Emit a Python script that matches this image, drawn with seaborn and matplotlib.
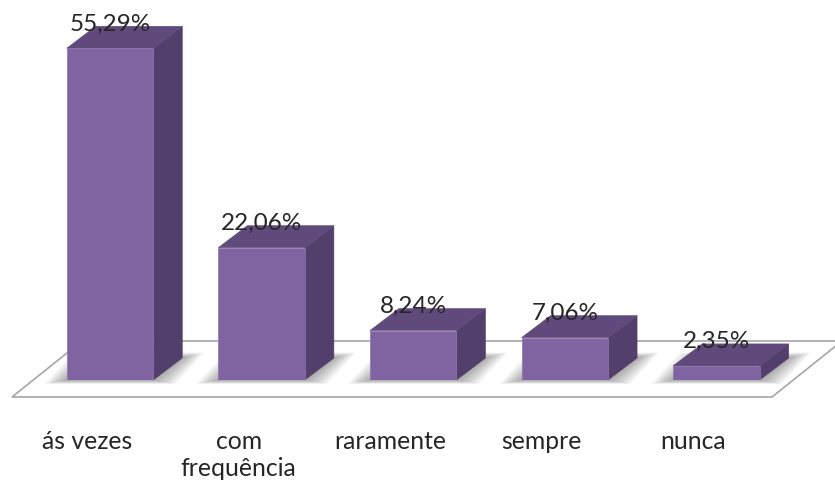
import matplotlib
matplotlib.use('Agg')
import matplotlib.pyplot as plt
from matplotlib.patches import Polygon
from matplotlib.transforms import Affine2D, ScaledTranslation
import seaborn as sns

categories = ['ás vezes', 'com\nfrequência', 'raramente', 'sempre', 'nunca']
values = [55.29, 22.06, 8.24, 7.06, 2.35]
value_labels = ['55,29%', '22,06%', '8,24%', '7,06%', '2,35%']

FRONT = '#8064A2'
SIDE = '#533F6B'
TOP = '#604A7B'
FLOOR_LINE = '#A6A6A6'
TEXT = '#262626'

W, H = 835, 486
BASE_Y = 380       # pixel row of the bars' foot
PX_PER_CAT = 151.6
PX_PER_UNIT = 6.0
DEPTH_X, DEPTH_Y = 29, 22  # 3d depth in pixels

sns.set_style('white')
plt.rcParams['font.family'] = ['Lato', 'DejaVu Sans']

fig = plt.figure(figsize=(W / 100, H / 100), dpi=100)
ax = fig.add_axes([0, (H - BASE_Y) / H, 1, BASE_Y / H])
sns.barplot(x=categories, y=values, color=FRONT, saturation=1, width=0.571, ax=ax, zorder=5)
ax.set_xlim(-110 / PX_PER_CAT, (W - 110) / PX_PER_CAT)
ax.set_ylim(0, BASE_Y / PX_PER_UNIT)
ax.patch.set_visible(False)
sns.despine(ax=ax, left=True, bottom=True)
ax.set_yticks([])

# pixels from the top left corner, for the floor and the shadows
px = Affine2D().scale(1, -1).translate(0, H)

floor = [(12, 397), (772, 397), (842, 341), (82, 341)]
ax.add_patch(Polygon(floor, closed=True, facecolor='white', edgecolor=FLOOR_LINE, lw=1.2,
                     transform=px, clip_on=False, zorder=1))

# depth faces and soft shadow, taken from each bar of the barplot
dx = DEPTH_X / PX_PER_CAT
dy = DEPTH_Y / PX_PER_UNIT
for bar in ax.containers[0]:
    x0, x1 = bar.get_x(), bar.get_x() + bar.get_width()
    h = bar.get_height()
    bar.set_edgecolor('#8E74AD')
    bar.set_linewidth(0.5)
    ax.add_patch(Polygon([(x1, 0), (x1 + dx, dy), (x1 + dx, h + dy), (x1, h)],
                         facecolor=SIDE, edgecolor=SIDE, lw=0.4, zorder=4, clip_on=False))
    ax.add_patch(Polygon([(x0, h), (x1, h), (x1 + dx, h + dy), (x0 + dx, h + dy)],
                         facecolor=TOP, edgecolor=TOP, lw=0.4, zorder=4, clip_on=False))
    px0 = x0 * PX_PER_CAT + 110
    px1 = x1 * PX_PER_CAT + 110
    for grow in range(16, 0, -1):
        g = grow * 1.4
        low = BASE_Y + grow * 0.25
        high = BASE_Y - DEPTH_Y - grow * 0.35
        shadow = [(px0 - g, low), (px1 + g, low),
                  (px1 + DEPTH_X + g, high), (px0 + DEPTH_X - g, high)]
        ax.add_patch(Polygon(shadow, facecolor='#404040', edgecolor='none', alpha=0.032,
                             transform=px, clip_on=False, zorder=2))

ax.bar_label(ax.containers[0], labels=value_labels, padding=10, fontsize=17.5, color=TEXT, zorder=8)

ax.tick_params(axis='x', length=0, pad=36, labelsize=17.8, labelcolor=TEXT)
ax.set_xticks(range(len(categories)), categories)
shift = ScaledTranslation(-23 / 100, 0, fig.dpi_scale_trans)
for label in ax.get_xticklabels():
    label.set_transform(label.get_transform() + shift)
    label.set_linespacing(1.2)

fig.savefig('out.png', dpi=100)
